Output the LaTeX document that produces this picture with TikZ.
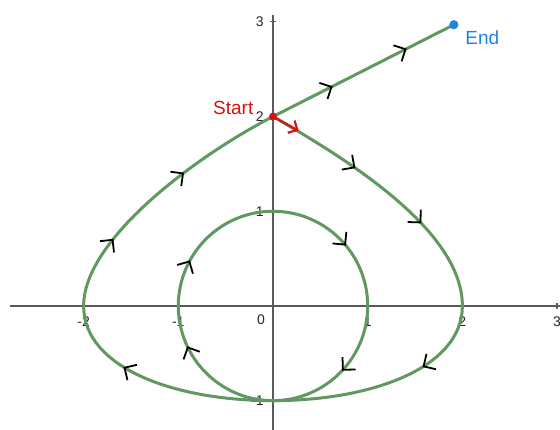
\documentclass[tikz,border=0pt]{standalone}
\usepackage{fontspec}
\setmainfont{Liberation Sans}
\usepackage{xcolor}
\usetikzlibrary{arrows.meta,decorations.markings}
\definecolor{pathgreen}{RGB}{96,152,96}
\definecolor{startred}{RGB}{214,18,18}
\definecolor{endblue}{RGB}{30,130,232}
\definecolor{axisgray}{RGB}{90,90,90}
\tikzset{
  curve/.style={pathgreen,line width=1.5pt},
  flow/.style={postaction={decorate,decoration={markings,
    mark=at position #1 with {\arrow{Straight Barb[length=4.5pt,width=9pt,line width=0.9pt,color=black]}}}}},
  ticklab/.style={font=\fontsize{7}{8}\selectfont,text=black!85,inner sep=0pt}
}
\begin{document}
\begin{tikzpicture}[x=47.35pt,y=47.35pt]
  \useasboundingbox (-2.883,-1.309) rectangle (3.031,3.231);
  % axes
  \draw[axisgray,line width=0.7pt] (-2.78,0) -- (3.031,0);
  \draw[axisgray,line width=0.7pt] (0,-1.309) -- (0,3.07);
  \foreach \x in {-2,-1,1,2,3}
    \draw[axisgray,line width=0.6pt] (\x,0.03) -- (\x,-0.03) node[ticklab,below=3.5pt] {\x};
  \foreach \y in {-1,1,2,3}
    \draw[axisgray,line width=0.6pt] (0.03,\y) -- (-0.03,\y) node[ticklab,left=3pt] {\y};
  \node[ticklab] (zero) at (-0.127,-0.148) {0};
  % points of the path
  \coordinate (start) at (0,2);
  \coordinate (finish) at (1.91,2.97);
  \coordinate (right) at (2,0);
  \coordinate (left) at (-2,0);
  \coordinate (bottom) at (0,-1);
  % the path, piece by piece
  \draw[curve,flow=0.35,flow=0.66] (start) .. controls +(-30:0.9) and +(0,0.8) .. (right);
  \draw[curve,flow=0.33] (right) .. controls +(0,-0.65) and +(1.05,0) .. (bottom);
  \draw[curve,flow=0.18,flow=0.33,flow=0.64,flow=0.87] (bottom) arc[start angle=-90,end angle=-450,radius=1];
  \draw[curve,flow=0.67] (bottom) .. controls +(-1.05,0) and +(0,-0.65) .. (left);
  \draw[curve,flow=0.27,flow=0.62] (left) .. controls +(0,0.72) and +(-153:0.85) .. (start);
  \draw[curve,flow=0.33,flow=0.74] (start) -- (finish);
  % start and end
  \draw[startred,line width=1.1pt,-{Straight Barb[length=3.5pt,width=7pt]}] (start) -- +(-29:0.31);
  \fill[startred] (start) circle (2pt);
  \fill[endblue] (finish) circle (2.3pt);
  \node[startred,font=\fontsize{9.5}{11}\selectfont] (startlab) at (-0.42,2.09) {Start};
  \node[endblue,font=\fontsize{9.5}{11}\selectfont] (endlab) at (2.21,2.83) {End};
\end{tikzpicture}
\end{document}
